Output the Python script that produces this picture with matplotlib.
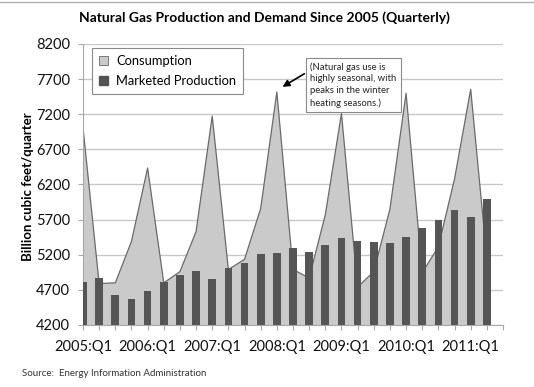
import numpy as np
import matplotlib
matplotlib.use("Agg")
import matplotlib.pyplot as plt
from matplotlib.patches import Patch
from matplotlib.lines import Line2D

plt.rcParams['font.family'] = ['Lato', 'DejaVu Sans']

# quarterly values, 2005:Q1 .. 2011:Q2 (billion cubic feet)
consumption = [7010, 4790, 4800, 5390, 6435, 4800, 4960, 5530, 7175, 4990, 5135, 5860,
               7517, 4990, 4870, 5770, 7210, 4740, 4960, 5850, 7498, 4945, 5315, 6280,
               7555, 5150]
production = [4808, 4865, 4632, 4570, 4684, 4808, 4916, 4969, 4859, 5011, 5087, 5215,
              5225, 5292, 5235, 5334, 5434, 5400, 5386, 5362, 5448, 5576, 5695, 5833,
              5742, 5998]
n_categories = 27  # axis runs to 2011:Q3
tick_labels = ["2005:Q1", "2006:Q1", "2007:Q1", "2008:Q1", "2009:Q1", "2010:Q1", "2011:Q1"]
y_ticks = [4200, 4700, 5200, 5700, 6200, 6700, 7200, 7700, 8200]

W, H = 534, 387
fig = plt.figure(figsize=(W / 100, H / 100), dpi=100)
ax = fig.add_axes([83 / W, 1 - 325 / H, 420 / W, 281 / H])

x = np.arange(len(consumption))
ax.fill_between(x, consumption, 0, facecolor='#cacaca', edgecolor='none', zorder=2)
ax.plot(x, consumption, color='#6a6a6a', lw=0.9, zorder=2.5)
ax.bar(x, production, width=0.48, color='#555555', zorder=3)

ax.set_xlim(0, n_categories - 1)
ax.set_ylim(4200, 8200)
ax.set_yticks(y_ticks)
ax.set_xticks(np.arange(n_categories))
labels = [''] * n_categories
for i, lab in enumerate(tick_labels):
    labels[i * 4] = lab
ax.set_xticklabels(labels)

ax.yaxis.grid(True, color='#c8c8c8', lw=1)
ax.set_axisbelow(True)
for s in ['top', 'right']:
    ax.spines[s].set_visible(False)
for s in ['left', 'bottom']:
    ax.spines[s].set_color('#a8a8a8')
ax.tick_params(axis='both', colors='#a8a8a8', length=3.5, width=0.8, direction='out')
ax.tick_params(axis='x', labelcolor='#111111', labelsize=10.5, pad=7)
ax.tick_params(axis='y', labelcolor='#111111', labelsize=10.5, pad=6)

ax.set_ylabel('Billion cubic feet/quarter', fontsize=9.5, fontweight='bold')
ax.yaxis.set_label_coords((34 - 83) / 420, (325 - 187) / 281)

fig.text(264 / W, 1 - 18 / H, 'Natural Gas Production and Demand Since 2005 (Quarterly)',
         ha='center', va='center', fontsize=10, fontweight='bold')
fig.text(22 / W, 1 - 373 / H, 'Source:  Energy Information Administration',
         ha='left', va='center', fontsize=7, color='#333333')

handles = [Patch(facecolor='#cacaca', edgecolor='#6a6a6a', lw=0.6, label='Consumption'),
           Patch(facecolor='#555555', edgecolor='#555555', label='Marketed Production')]
leg = ax.legend(handles=handles, loc='upper left', bbox_to_anchor=(92 / W, 1 - 48 / H),
                bbox_transform=fig.transFigure, borderaxespad=0, fancybox=False,
                framealpha=1, edgecolor='#8a8a8a', fontsize=9.3, handlelength=0.7,
                handleheight=0.7, handletextpad=0.6, labelspacing=0.6, borderpad=0.55)
leg.get_frame().set_linewidth(0.8)

note = "(Natural gas use is\nhighly seasonal, with\npeaks in the winter\nheating seasons.)"
fig.text(310 / W, 1 - 62 / H, note, ha='left', va='top', fontsize=6.8, linespacing=1.4,
         color='#222222',
         bbox=dict(boxstyle='square,pad=0.45', facecolor='white', edgecolor='#8a8a8a', lw=0.8))
ax.annotate('', xy=(12.2, 7570), xytext=(13.85, 7797),
            arrowprops=dict(arrowstyle='-|>', color='black', lw=1.2, mutation_scale=10),
            zorder=5)

fig.add_artist(Line2D([0, 1], [1 - 2 / H, 1 - 2 / H], color='#b0b0b0', lw=1))

fig.savefig('out.png', dpi=100)
